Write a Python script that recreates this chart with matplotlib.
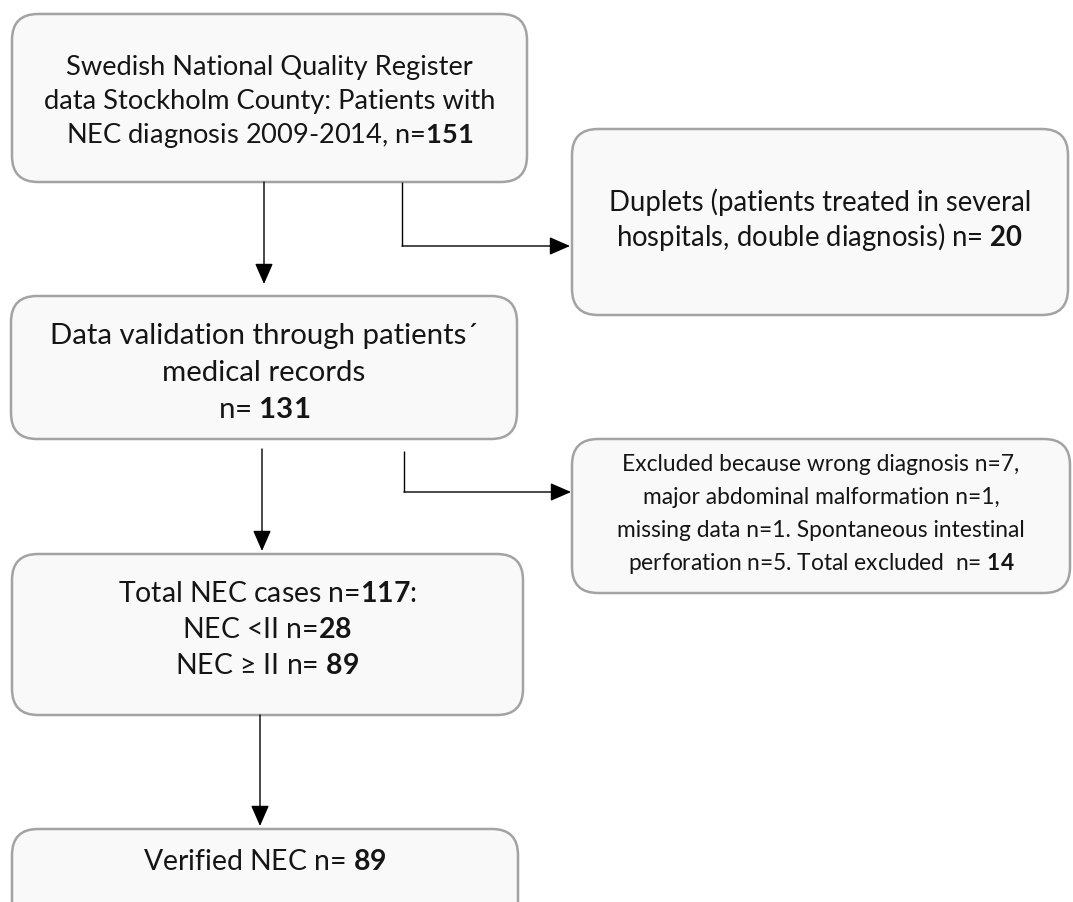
import matplotlib
matplotlib.use("Agg")
import matplotlib.pyplot as plt
from matplotlib.patches import FancyBboxPatch

plt.rcParams['font.family'] = ['Lato', 'DejaVu Sans']
plt.rcParams['mathtext.fontset'] = 'custom'
plt.rcParams['mathtext.rm'] = 'Lato'
plt.rcParams['mathtext.bf'] = 'Lato:bold'

# ---- content ----
box_texts = {
    "register": ["Swedish National Quality Register",
                 "data Stockholm County: Patients with",
                 r"NEC diagnosis 2009-2014, n=$\mathbf{151}$"],
    "duplets": ["Duplets (patients treated in several",
                r"hospitals, double diagnosis) n= $\mathbf{20}$"],
    "validation": ["Data validation through patients\u00b4",
                   "medical records",
                   r"n= $\mathbf{131}$"],
    "excluded": ["Excluded because wrong diagnosis n=7,",
                 "major abdominal malformation n=1,",
                 "missing data n=1. Spontaneous intestinal",
                 r"perforation n=5. Total excluded  n= $\mathbf{14}$"],
    "total": [r"Total NEC cases n=$\mathbf{117}$:",
              r"NEC <II n=$\mathbf{28}$",
              "NEC \u2265 II n= $\\mathbf{89}$"],
    "verified": [r"Verified NEC n= $\mathbf{89}$"],
}

# ---- layout (pixel units) ----
boxes = {
    #            x0,  y0,   x1,   y1, fontsize, first line y, line step
    "register":  (12, 15, 527, 183, 19.6, 68, 34),
    "duplets":   (572, 130, 1068, 316, 19.8, 202, 35),
    "validation": (11, 297, 517, 440, 21.2, 336, 37),
    "excluded":  (572, 440, 1070, 594, 16.4, 465, 33),
    "total":     (12, 555, 523, 716, 20.4, 594, 36),
    "verified":  (12, 830, 518, 940, 20.4, 862, 33),
}

fig = plt.figure(figsize=(10.73, 9.03), dpi=100)
ax = fig.add_axes([0, 0, 1, 1])
ax.set_xlim(0, 1073)
ax.set_ylim(903, 0)
ax.axis('off')

for key, (x0, y0, x1, y1, fs, ty, dy) in boxes.items():
    r = 26
    p = FancyBboxPatch((x0 + r, y0 + r), (x1 - x0) - 2 * r, (y1 - y0) - 2 * r,
                       boxstyle=f"round,pad={r},rounding_size={r}",
                       facecolor='#f9f9f9', edgecolor='#a3a3a3', linewidth=1.8,
                       mutation_aspect=1)
    ax.add_patch(p)
    cx = (x0 + x1) / 2
    for i, line in enumerate(box_texts[key]):
        ax.text(cx, ty + i * dy, line, ha='center', va='center',
                fontsize=fs, color='#151515')

def arrow(points):
    xs = [p[0] for p in points]
    ys = [p[1] for p in points]
    ax.plot(xs[:-1], ys[:-1], color='black', lw=1.0, solid_capstyle='butt')
    ax.annotate('', xy=points[-1], xytext=points[-2],
                arrowprops=dict(arrowstyle='-|>,head_length=0.8,head_width=0.35',
                                color='black', lw=1.0, shrinkA=0, shrinkB=0,
                                mutation_scale=16))

arrow([(264, 183), (264, 285)])
arrow([(402, 183), (402, 247), (570, 247)])
arrow([(262, 450), (262, 552)])
arrow([(404, 452), (404, 493), (571, 493)])
arrow([(260, 716), (260, 827)])

fig.savefig('out.png', dpi=100, facecolor='white')
